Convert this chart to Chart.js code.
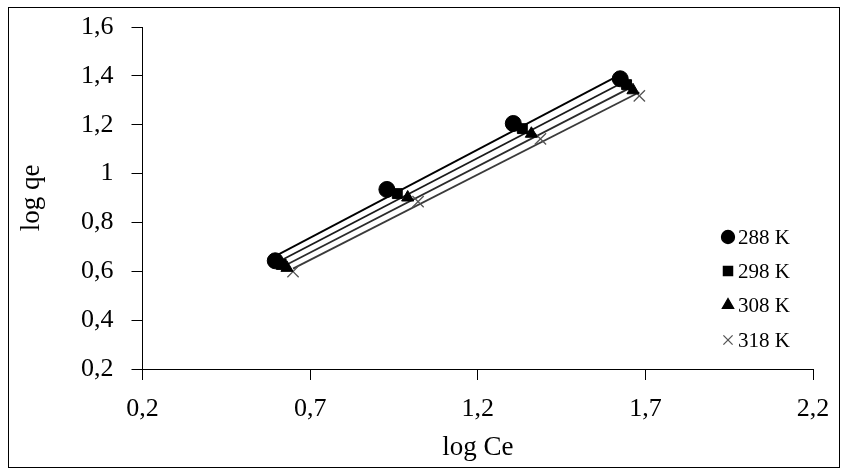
<!DOCTYPE html>
<html>
<head>
<meta charset="utf-8">
<script src="https://cdn.jsdelivr.net/npm/chart.js@4"></script>
<style>
  html, body { margin: 0; padding: 0; background: #fff; }
  #wrap { width: 848px; height: 470px; }
</style>
</head>
<body>
<div id="wrap"><canvas id="isoChart" width="848" height="470"></canvas></div>
<script>
// valores (log Ce, log qe)
const seriesNames = ['288 K', '298 K', '308 K', '318 K'];
const logCe288 = [0.596, 0.929, 1.306, 1.625];
const logQe288 = [0.643, 0.935, 1.205, 1.388];
const logCe298 = [0.614, 0.960, 1.333, 1.644];
const logQe298 = [0.628, 0.918, 1.184, 1.364];
const logCe308 = [0.631, 0.991, 1.360, 1.663];
const logQe308 = [0.614, 0.902, 1.163, 1.341];
const logCe318 = [0.649, 1.022, 1.387, 1.682];
const logQe318 = [0.599, 0.885, 1.142, 1.318];

// linhas de tendência (extremos)
const trendX288 = [0.596, 1.625];
const trendY288 = [0.662, 1.405];
const trendX298 = [0.614, 1.644];
const trendY298 = [0.645, 1.381];
const trendX308 = [0.631, 1.663];
const trendY308 = [0.628, 1.357];
const trendX318 = [0.649, 1.682];
const trendY318 = [0.611, 1.333];

const xTicks = [0.2, 0.7, 1.2, 1.7, 2.2];
const yTicks = [0.2, 0.4, 0.6, 0.8, 1.0, 1.2, 1.4, 1.6];

const serif = "'Liberation Serif', 'DejaVu Serif', serif";

function toPoints(xs, ys) {
    return xs.map((x, i) => ({ x: x, y: ys[i] }));
}

function fmt(v) {
    return String(Math.round(v * 10) / 10).replace('.', ',');
}

const styles = [
    { pointStyle: 'circle', color: '#000', line: '#000', radius: 8 },
    { pointStyle: 'rect', color: '#000', line: '#1a1a1a', radius: 7 },
    { pointStyle: 'triangle', color: '#000', line: '#2a2a2a', radius: 7 },
    { pointStyle: 'crossRot', color: '#555', line: '#3a3a3a', radius: 8 }
];

const allX = [logCe288, logCe298, logCe308, logCe318];
const allY = [logQe288, logQe298, logQe308, logQe318];
const trendXs = [trendX288, trendX298, trendX308, trendX318];
const trendYs = [trendY288, trendY298, trendY308, trendY318];

const datasets = [];
seriesNames.forEach((name, i) => {
    datasets.push({
        label: name + ' tendência',
        data: toPoints(trendXs[i], trendYs[i]),
        showLine: true,
        borderColor: styles[i].line,
        borderWidth: 1.8,
        pointRadius: 0,
        order: 10
    });
});
seriesNames.forEach((name, i) => {
    datasets.push({
        label: name,
        data: toPoints(allX[i], allY[i]),
        showLine: false,
        pointStyle: styles[i].pointStyle,
        pointRadius: styles[i].radius,
        pointBackgroundColor: styles[i].color,
        pointBorderColor: styles[i].color,
        pointBorderWidth: i === 3 ? 1.3 : 1,
        order: i
    });
});

// legenda desenhada dentro da área do gráfico
const insideLegend = {
    id: 'insideLegend',
    afterDraw(chart) {
        const ctx = chart.ctx;
        const rows = [237, 271, 305, 340];
        ctx.save();
        ctx.font = '21px ' + serif;
        ctx.textBaseline = 'middle';
        seriesNames.forEach((name, i) => {
            const s = styles[i];
            ctx.fillStyle = s.color;
            ctx.strokeStyle = s.color;
            ctx.lineWidth = 1.3;
            Chart.helpers.drawPoint(ctx, { pointStyle: s.pointStyle, radius: 6.5, borderWidth: 1.3 }, 728, rows[i]);
            ctx.fillStyle = '#000';
            ctx.fillText(name, 738, rows[i] + 1);
        });
        ctx.restore();
    }
};

// moldura externa
const outerFrame = {
    id: 'outerFrame',
    beforeDraw(chart) {
        const ctx = chart.ctx;
        ctx.save();
        ctx.fillStyle = '#fff';
        ctx.fillRect(0, 0, chart.width, chart.height);
        ctx.strokeStyle = '#000';
        ctx.lineWidth = 1;
        ctx.strokeRect(8.5, 7.5, 831, 460);
        ctx.restore();
    }
};

new Chart(document.getElementById('isoChart').getContext('2d'), {
    type: 'scatter',
    data: { datasets: datasets },
    options: {
        responsive: false,
        animation: false,
        layout: { padding: { left: 12, right: 35, top: 27, bottom: 6 } },
        plugins: {
            legend: { display: false },
            tooltip: { enabled: false }
        },
        scales: {
            x: {
                type: 'linear',
                min: 0.2,
                max: 2.2,
                afterBuildTicks: (scale) => { scale.ticks = xTicks.map(v => ({ value: v })); },
                afterFit: (scale) => {
                    scale.height = 95;
                    scale.paddingLeft = 0;
                    scale.paddingRight = 0;
                },
                ticks: {
                    callback: fmt,
                    color: '#000',
                    font: { family: serif, size: 26 },
                    padding: 14,
                    maxRotation: 0
                },
                grid: { drawOnChartArea: false, drawTicks: true, tickLength: 11, color: '#000' },
                border: { display: true, color: '#000', width: 1 },
                title: {
                    display: true,
                    text: 'log Ce',
                    color: '#000',
                    font: { family: serif, size: 27 },
                    padding: { top: 0, bottom: 0 }
                }
            },
            y: {
                type: 'linear',
                min: 0.2,
                max: 1.6,
                afterBuildTicks: (scale) => { scale.ticks = yTicks.map(v => ({ value: v })); },
                afterFit: (scale) => {
                    scale.width = 130.5;
                    scale.paddingTop = 0;
                    scale.paddingBottom = 0;
                },
                ticks: {
                    callback: fmt,
                    color: '#000',
                    font: { family: serif, size: 26 },
                    padding: 18
                },
                grid: { drawOnChartArea: false, drawTicks: true, tickLength: 11, color: '#000' },
                border: { display: true, color: '#000', width: 1 },
                title: {
                    display: true,
                    text: 'log qe',
                    color: '#000',
                    font: { family: serif, size: 27 },
                    padding: { top: 4, bottom: 0 }
                }
            }
        }
    },
    plugins: [outerFrame, insideLegend]
});
</script>
</body>
</html>
